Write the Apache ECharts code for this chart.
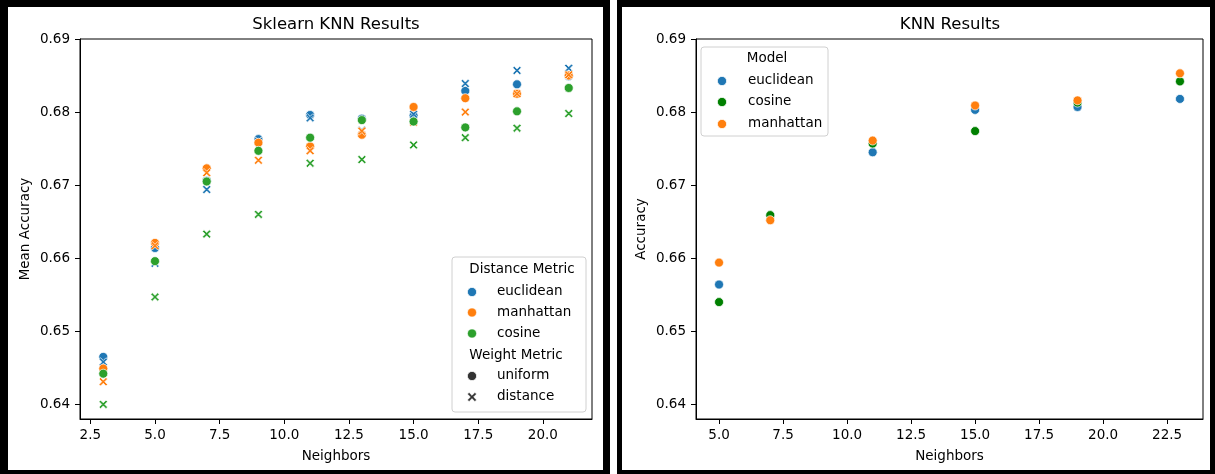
<!DOCTYPE html>
<html><head><meta charset="utf-8">
<script src="https://cdn.jsdelivr.net/npm/echarts@6/dist/echarts.min.js"></script>
<style>html,body{margin:0;padding:0;background:#fff}#c{width:1215px;height:474px}</style>
</head><body><div id="c"></div>
<script>
// ---- data (left panel: Sklearn KNN Results) ----
const neighborsLeft = [3, 5, 7, 9, 11, 13, 15, 17, 19, 21];
const euclideanUniform  = [0.6465, 0.6614, 0.6706, 0.6763, 0.6796, 0.6791, 0.6795, 0.6829, 0.6838, 0.6849];
const euclideanDistance = [0.6458, 0.6593, 0.6694, 0.6760, 0.6792, 0.6775, 0.6797, 0.6839, 0.6857, 0.6860];
const manhattanUniform  = [0.6449, 0.6621, 0.6723, 0.6758, 0.6753, 0.6769, 0.6807, 0.6819, 0.6825, 0.6850];
const manhattanDistance = [0.6431, 0.6617, 0.6717, 0.6734, 0.6747, 0.6774, 0.6786, 0.6800, 0.6825, 0.6851];
const cosineUniform     = [0.6442, 0.6596, 0.6705, 0.6747, 0.6765, 0.6789, 0.6787, 0.6779, 0.6801, 0.6833];
const cosineDistance    = [0.6400, 0.6547, 0.6633, 0.6660, 0.6730, 0.6735, 0.6755, 0.6765, 0.6778, 0.6798];
// ---- data (right panel: KNN Results) ----
const neighborsRight = [5, 7, 11, 15, 19, 23];
const knnEuclidean = [0.6564, 0.6658, 0.6745, 0.6803, 0.6807, 0.6818];
const knnCosine    = [0.6540, 0.6659, 0.6757, 0.6774, 0.6813, 0.6842];
const knnManhattan = [0.6594, 0.6652, 0.6761, 0.6809, 0.6816, 0.6853];
// ---- tick labels ----
const leftXTicks  = [2.5, 5, 7.5, 10, 12.5, 15, 17.5, 20];
const rightXTicks = [5, 7.5, 10, 12.5, 15, 17.5, 20, 22.5];
const yTicks = [0.64, 0.65, 0.66, 0.67, 0.68, 0.69];

const FONT = 'DejaVu Sans';
const C_BLUE = '#1f77b4', C_ORANGE = '#ff7f0e', C_GREEN = '#2ca02c', C_DGREEN = '#008000';
const XPTS = [[0,1.8],[1.8,0],[5,3.2],[8.2,0],[10,1.8],[6.8,5],[10,8.2],[8.2,10],[5,6.8],[1.8,10],[0,8.2],[3.2,5]];
const XPATH = 'path://M' + XPTS.map(p => p.join(',')).join('L') + 'Z';

function sc(name, gi, xs, ys, color, symbol, size) {
  return {
    type: 'scatter', name, xAxisIndex: gi, yAxisIndex: gi,
    data: xs.map((x, i) => [x, ys[i]]),
    symbol, symbolSize: size,
    itemStyle: { color, borderColor: '#fff', borderWidth: 0.7, opacity: 1 },
    emphasis: { disabled: true }, silent: true
  };
}

function xAx(gi, min, max, ticks) {
  return {
    gridIndex: gi, type: 'value', min, max,
    axisLine: { show: true, onZero: false, lineStyle: { color: '#000', width: 1 } },
    axisTick: { show: true, length: 5, customValues: ticks, lineStyle: { color: '#000' } },
    axisLabel: { customValues: ticks, formatter: v => v.toFixed(1), color: '#000', fontSize: 13.5, fontFamily: FONT, margin: 9 },
    splitLine: { show: false },
    name: 'Neighbors', nameLocation: 'middle', nameGap: 30,
    nameTextStyle: { color: '#000', fontSize: 13.5, fontFamily: FONT }
  };
}
function yAx(gi, name, gap) {
  return {
    gridIndex: gi, type: 'value', min: 0.638, max: 0.69,
    axisLine: { show: true, onZero: false, lineStyle: { color: '#000', width: 1 } },
    axisTick: { show: true, length: 5, customValues: yTicks, lineStyle: { color: '#000' } },
    axisLabel: { customValues: yTicks, formatter: v => v.toFixed(2), color: '#000', fontSize: 13.5, fontFamily: FONT, margin: 10 },
    splitLine: { show: false },
    name, nameLocation: 'middle', nameGap: gap,
    nameTextStyle: { color: '#000', fontSize: 13.5, fontFamily: FONT }
  };
}

function txt(x, y, text, align, size) {
  return { type: 'text', x, y, silent: true, z: 20,
    style: { text, fill: '#000', font: (size || 13.5) + 'px "' + FONT + '"', textAlign: align || 'left', textVerticalAlign: 'middle' } };
}
function dot(cx, cy, color) {
  return { type: 'circle', silent: true, z: 20, shape: { cx, cy, r: 4.6 }, style: { fill: color, stroke: '#fff', lineWidth: 0.7 } };
}
function xmark(cx, cy, color) {
  const s = 0.9;
  return { type: 'polygon', silent: true, z: 20,
    shape: { points: XPTS.map(p => [cx + (p[0] - 5) * s, cy + (p[1] - 5) * s]) },
    style: { fill: color, stroke: '#fff', lineWidth: 0.5 } };
}
function blk(x, y, w, h) {
  return { type: 'rect', silent: true, z: 30, shape: { x, y, width: w, height: h }, style: { fill: '#000' } };
}

const graphic = [
  // panel frames
  blk(0, 0, 610, 7), blk(0, 0, 8, 474), blk(603, 0, 7, 474), blk(0, 470, 610, 4),
  blk(617, 0, 598, 7), blk(617, 0, 5, 474), blk(1210, 0, 5, 474), blk(617, 470, 598, 4),
  // titles
  txt(336, 24.5, 'Sklearn KNN Results', 'center', 16.5),
  txt(950, 24.5, 'KNN Results', 'center', 16.5),
  // left legend
  { type: 'rect', silent: true, z: 19, shape: { x: 452, y: 257, width: 134, height: 155, r: 3 }, style: { fill: 'rgba(255,255,255,0.85)', stroke: '#d0d0d0', lineWidth: 1 } },
  txt(522, 269, 'Distance Metric', 'center'),
  dot(472, 292, C_BLUE), txt(497, 291, 'euclidean'),
  dot(472, 312.5, C_ORANGE), txt(497, 312, 'manhattan'),
  dot(472, 333.5, C_GREEN), txt(497, 333, 'cosine'),
  txt(516, 355, 'Weight Metric', 'center'),
  dot(472, 376, '#333'), txt(497, 375.5, 'uniform'),
  xmark(472, 397, '#333'), txt(497, 396.5, 'distance'),
  // right legend
  { type: 'rect', silent: true, z: 19, shape: { x: 701, y: 47, width: 127, height: 89, r: 3 }, style: { fill: 'rgba(255,255,255,0.85)', stroke: '#d0d0d0', lineWidth: 1 } },
  txt(767, 58.5, 'Model', 'center'),
  dot(722, 81, C_BLUE), txt(748, 80.5, 'euclidean'),
  dot(722, 102, C_DGREEN), txt(748, 101.5, 'cosine'),
  dot(722, 124, C_ORANGE), txt(748, 123.5, 'manhattan')
];

const chart = echarts.init(document.getElementById('c'), null, { renderer: 'canvas' });
chart.setOption({
  animation: false,
  backgroundColor: '#fff',
  grid: [
    { left: 80, top: 39, width: 512, height: 380, show: true, borderColor: '#000', borderWidth: 1, backgroundColor: 'transparent' },
    { left: 696, top: 39, width: 507, height: 380, show: true, borderColor: '#000', borderWidth: 1, backgroundColor: 'transparent' }
  ],
  xAxis: [xAx(0, 2.1, 21.9, leftXTicks), xAx(1, 4.1, 23.9, rightXTicks)],
  yAxis: [yAx(0, 'Mean Accuracy', 48), yAx(1, 'Accuracy', 48)],
  series: [
    sc('euclidean uniform', 0, neighborsLeft, euclideanUniform, C_BLUE, 'circle', 9),
    sc('euclidean distance', 0, neighborsLeft, euclideanDistance, C_BLUE, XPATH, 8.5),
    sc('manhattan uniform', 0, neighborsLeft, manhattanUniform, C_ORANGE, 'circle', 9),
    sc('manhattan distance', 0, neighborsLeft, manhattanDistance, C_ORANGE, XPATH, 8.5),
    sc('cosine uniform', 0, neighborsLeft, cosineUniform, C_GREEN, 'circle', 9),
    sc('cosine distance', 0, neighborsLeft, cosineDistance, C_GREEN, XPATH, 8.5),
    sc('euclidean', 1, neighborsRight, knnEuclidean, C_BLUE, 'circle', 9),
    sc('cosine', 1, neighborsRight, knnCosine, C_DGREEN, 'circle', 9),
    sc('manhattan', 1, neighborsRight, knnManhattan, C_ORANGE, 'circle', 9)
  ],
  graphic
});
</script>
</body></html>
